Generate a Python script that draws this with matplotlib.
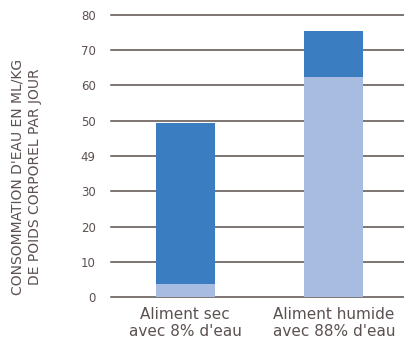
import numpy as np
import matplotlib.pyplot as plt

categories = ["Aliment sec\navec 8% d'eau", "Aliment humide\navec 88% d'eau"]
bottom_part = [3.7, 62.5]
top_part = [45.7, 13.1]
yticks = [0, 10, 20, 30, 40, 50, 60, 70, 80]
ytick_labels = ['0', '10', '20', '30', '49', '50', '60', '70', '80']

text_col = '#5b5150'
grid_col = '#5a504a'
dark_blue = '#3a7ec1'
light_blue = '#a8bce1'

fig = plt.figure(figsize=(4.04, 3.40), dpi=100)
ax = fig.add_axes([111 / 404, 1 - 297 / 340, 1 - 111 / 404 + 0.01, (297 - 15) / 340])

x = np.arange(len(categories))
ax.bar(x, bottom_part, width=0.4, color=light_blue, zorder=3)
ax.bar(x, top_part, width=0.4, bottom=bottom_part, color=dark_blue, zorder=3)

ax.set_ylim(0, 80)
ax.set_xlim(-0.5, 1.5)
ax.set_yticks(yticks)
ax.set_yticklabels(ytick_labels)
ax.set_xticks(x)
ax.set_xticklabels(categories, fontsize=11, color=text_col, linespacing=1.2)
ax.tick_params(axis='y', length=0, pad=11, labelsize=8.5, labelcolor=text_col)
ax.tick_params(axis='x', length=0, pad=7)
ax.grid(axis='y', color=grid_col, linewidth=1.1, zorder=0)
for gl in ax.get_ygridlines():
    gl.set_clip_on(False)
ax.set_axisbelow(True)
for s in ax.spines.values():
    s.set_visible(False)

fig.text(0.064, 1 - 177 / 340, "CONSOMMATION D'EAU EN ML/KG\nDE POIDS CORPOREL PAR JOUR",
         rotation=90, ha='center', va='center', fontsize=10, color=text_col,
         linespacing=1.3, multialignment='center')

fig.savefig('out.png', dpi=100)
